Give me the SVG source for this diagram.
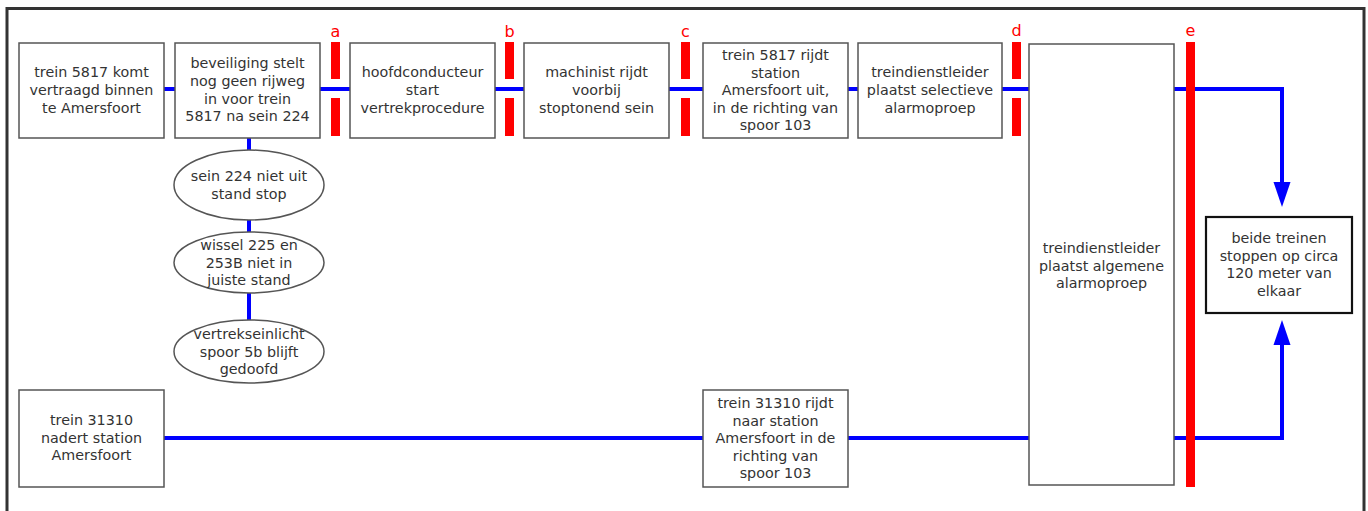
<svg xmlns="http://www.w3.org/2000/svg" width="1368" height="511" viewBox="0 0 1368 511">
<style>
.box{fill:#fff;stroke:#555;stroke-width:1.5}
.fin{fill:#fff;stroke:#111;stroke-width:2.2}
.t{font-family:"DejaVu Sans",Verdana,sans-serif;font-size:14.3px;fill:#333;text-anchor:middle}
.lab{font-family:"DejaVu Sans",Verdana,sans-serif;font-size:16px;fill:#f00;text-anchor:middle}
.c{stroke:#00f;stroke-width:4;fill:none}
.bar{fill:#f00}
.ah{fill:#00f}
</style>
<rect width="1368" height="511" fill="#fff"/>
<rect x="7" y="8.5" width="1357" height="515" fill="none" stroke="#333" stroke-width="3"/>

<g id="connectors">
<path class="c" d="M164,89H175M320,89H350M495,89H524M669,89H703M848,89H858M1002,89H1029"/>
<path class="c" d="M249,138V150M249,220V232M249,293V320"/>
<path class="c" d="M164,438H703M848,438H1029"/>
<path class="c" d="M1174,89H1282V184"/>
<path class="c" d="M1174,438H1282V343"/>
<path class="ah" d="M1282,182 l-8.5,0 l8.5,25 l8.5,-25 z"/>
<path class="ah" d="M1282,345 l-8.5,0 l8.5,-25 l8.5,25 z"/>
</g>

<g id="n1"><rect class="box" x="19" y="43" width="145" height="95"/>
<text class="t" x="91.5" y="77">trein 5817 komt</text><text class="t" x="91.5" y="95">vertraagd binnen</text><text class="t" x="91.5" y="113">te Amersfoort</text></g>

<g id="n2"><rect class="box" x="175" y="43" width="145" height="95"/>
<text class="t" x="247.5" y="68">beveiliging stelt</text><text class="t" x="247.5" y="86">nog geen rijweg</text><text class="t" x="247.5" y="103.5">in voor trein</text><text class="t" x="247.5" y="121">5817 na sein 224</text></g>

<g id="n3"><rect class="box" x="350" y="43" width="145" height="95"/>
<text class="t" x="422.5" y="77">hoofdconducteur</text><text class="t" x="422.5" y="95">start</text><text class="t" x="422.5" y="113">vertrekprocedure</text></g>

<g id="n4"><rect class="box" x="524" y="43" width="145" height="95"/>
<text class="t" x="596.5" y="77">machinist rijdt</text><text class="t" x="596.5" y="95">voorbij</text><text class="t" x="596.5" y="113">stoptonend sein</text></g>

<g id="n5"><rect class="box" x="703" y="43" width="145" height="95"/>
<text class="t" x="775.5" y="60">trein 5817 rijdt</text><text class="t" x="775.5" y="77.5">station</text><text class="t" x="775.5" y="95">Amersfoort uit,</text><text class="t" x="775.5" y="112.5">in de richting van</text><text class="t" x="775.5" y="130">spoor 103</text></g>

<g id="n6"><rect class="box" x="858" y="43" width="144" height="95"/>
<text class="t" x="930" y="77">treindienstleider</text><text class="t" x="930" y="95">plaatst selectieve</text><text class="t" x="930" y="113">alarmoproep</text></g>

<g id="n7"><rect class="box" x="1029" y="44" width="145" height="441"/>
<text class="t" x="1101.5" y="253">treindienstleider</text><text class="t" x="1101.5" y="270.5">plaatst algemene</text><text class="t" x="1101.5" y="288">alarmoproep</text></g>

<g id="n8"><rect class="fin" x="1206" y="217" width="146" height="96"/>
<text class="t" x="1279" y="243">beide treinen</text><text class="t" x="1279" y="260.5">stoppen op circa</text><text class="t" x="1279" y="278">120 meter van</text><text class="t" x="1279" y="295.5">elkaar</text></g>

<g id="e1"><ellipse class="box" cx="249" cy="185" rx="75" ry="35"/>
<text class="t" x="249" y="181">sein 224 niet uit</text><text class="t" x="249" y="198.5">stand stop</text></g>

<g id="e2"><ellipse class="box" cx="249" cy="262.5" rx="75" ry="30.5"/>
<text class="t" x="249" y="250">wissel 225 en</text><text class="t" x="249" y="267.5">253B niet in</text><text class="t" x="249" y="285">juiste stand</text></g>

<g id="e3"><ellipse class="box" cx="249" cy="351.5" rx="75" ry="31.5"/>
<text class="t" x="249" y="339">vertrekseinlicht</text><text class="t" x="249" y="356.5">spoor 5b blijft</text><text class="t" x="249" y="374">gedoofd</text></g>

<g id="b1"><rect class="box" x="19" y="390" width="145" height="97"/>
<text class="t" x="91.5" y="425">trein 31310</text><text class="t" x="91.5" y="442.5">nadert station</text><text class="t" x="91.5" y="460">Amersfoort</text></g>

<g id="b2"><rect class="box" x="703" y="390" width="145" height="97"/>
<text class="t" x="775.5" y="408">trein 31310 rijdt</text><text class="t" x="775.5" y="425.5">naar station</text><text class="t" x="775.5" y="443">Amersfoort in de</text><text class="t" x="775.5" y="460.5">richting van</text><text class="t" x="775.5" y="478">spoor 103</text></g>

<g id="barriers">
<rect class="bar" x="331" y="42" width="9" height="37"/><rect class="bar" x="331" y="98" width="9" height="38"/>
<rect class="bar" x="505" y="42" width="9" height="37"/><rect class="bar" x="505" y="98" width="9" height="38"/>
<rect class="bar" x="681" y="42" width="9" height="37"/><rect class="bar" x="681" y="98" width="9" height="38"/>
<rect class="bar" x="1012" y="42" width="9" height="37"/><rect class="bar" x="1012" y="98" width="9" height="38"/>
<rect class="bar" x="1186" y="42" width="9" height="445"/>
<text class="lab" x="335.5" y="37">a</text>
<text class="lab" x="509.5" y="37">b</text>
<text class="lab" x="685.5" y="37">c</text>
<text class="lab" x="1016.5" y="36">d</text>
<text class="lab" x="1190.5" y="36">e</text>
</g>
</svg>
